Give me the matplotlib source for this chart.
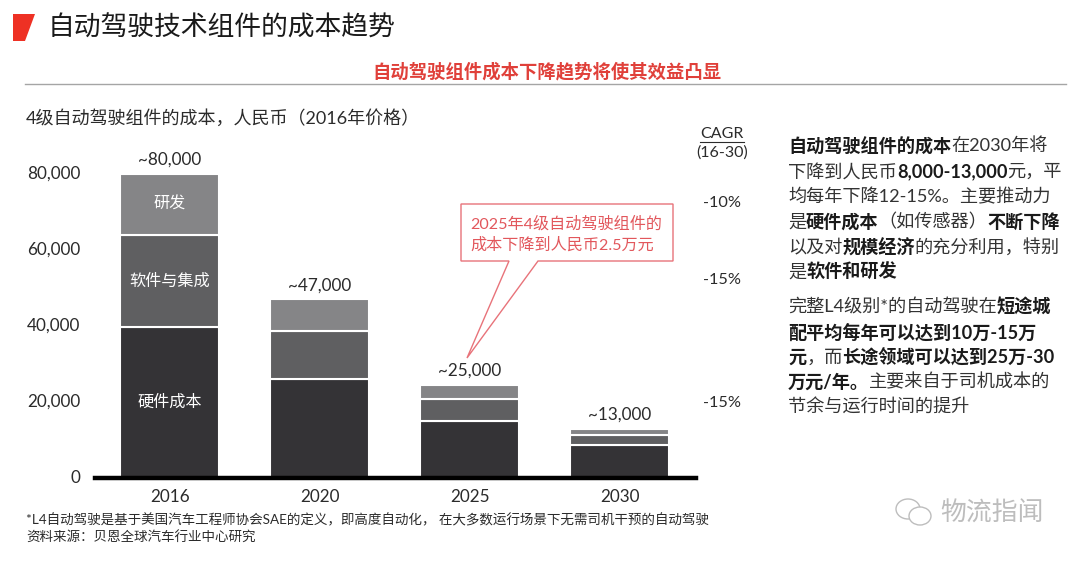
import matplotlib
matplotlib.use('Agg')
import matplotlib.pyplot as plt
from matplotlib.patches import Polygon, Ellipse

plt.rcParams['font.family'] = ['Lato', 'Noto Sans CJK SC', 'DejaVu Sans']

years = ['2016', '2020', '2025', '2030']
hardware = [39700, 26000, 15000, 8700]
software = [24200, 12700, 5800, 2600]
research = [16100, 8300, 3700, 1600]
totals = ['~80,000', '~47,000', '~25,000', '~13,000']
yticks = [0, 20000, 40000, 60000, 80000]
cagr = ['-10%', '-15%', '-15%']

dark = '#343336'
mid = '#5f5f61'
light = '#858587'
red = '#ee3124'
text_col = '#2b2b2b'

fig = plt.figure(figsize=(10.8, 5.61), dpi=100)

# chart axes, placed in pixels of the original
ax = fig.add_axes([95/1080, (561-478)/561, 601/1080, 304/561])
ax.bar(years, hardware, width=0.66, color=dark, edgecolor='white', linewidth=1.5)
ax.bar(years, software, width=0.66, bottom=hardware, color=mid, edgecolor='white', linewidth=1.5)
bottoms = [h+s for h, s in zip(hardware, software)]
ax.bar(years, research, width=0.66, bottom=bottoms, color=light, edgecolor='white', linewidth=1.5)
ax.set_xlim(-0.5, 3.507)
ax.set_ylim(0, 80000)
for s in ['top', 'right', 'left']:
    ax.spines[s].set_visible(False)
ax.spines['bottom'].set_linewidth(3.2)
ax.spines['bottom'].set_color('black')
ax.spines['bottom'].set_zorder(5)
ax.set_yticks(yticks)
ax.set_yticklabels([f'{v:,}' for v in yticks], fontsize=12.3, color=text_col, va='center')
for lab in ax.get_yticklabels():
    lab.set_y(lab.get_position()[1])
ax.tick_params(axis='y', length=0, pad=10.4)
ax.tick_params(axis='x', length=0, pad=8, labelsize=12.3, labelcolor=text_col)

for i, label in enumerate(totals):
    top = hardware[i]+software[i]+research[i]
    ax.annotate(label, (i, top), xytext=(0, 4.5), textcoords='offset points', ha='center', va='bottom',
                fontsize=12.3, color=text_col, annotation_clip=False)
ax.text(0, hardware[0]/2, '硬件成本', color='white', fontsize=11.6, ha='center', va='center')
ax.text(0, hardware[0]+software[0]/2, '软件与集成', color='white', fontsize=11.6, ha='center', va='center')
ax.text(0, bottoms[0]+research[0]/2, '研发', color='white', fontsize=11.6, ha='center', va='center')

# overlay in pixel coordinates for all the slide furniture
px = fig.add_axes([0, 0, 1, 1], facecolor='none')
px.set_xlim(0, 1080)
px.set_ylim(561, 0)
px.set_axis_off()

px.add_patch(Polygon([(13, 14), (35, 14), (25, 41), (13, 41)], color=red, lw=0))
px.text(48, 28, '自动驾驶技术组件的成本趋势', fontsize=19.3, color='#1a1a1a', va='center')
px.text(547, 71, '自动驾驶组件成本下降趋势将使其效益凸显', fontsize=13.2, color='#e0403a',
        fontweight='bold', ha='center', va='center')
px.plot([25, 1066], [84, 84], color='#a5a5a5', lw=1)
px.text(26, 118, '4级自动驾驶组件的成本，人民币（2016年价格）', fontsize=13, color=text_col, va='center')

# CAGR column
px.text(722, 134, 'CAGR', fontsize=11.5, color=text_col, ha='center', va='center')
px.plot([700, 744], [142, 142], color=text_col, lw=0.8)
px.text(722, 153, '(16-30)', fontsize=11.5, color=text_col, ha='center', va='center')
for y, label in zip([203, 280, 403], cagr):
    px.text(722, y, label, fontsize=11.7, color=text_col, ha='center', va='center')

# callout
callout_col = '#e8737a'
px.add_patch(Polygon([(461, 204), (673, 204), (673, 261), (538, 261), (467, 358), (509, 261), (461, 261)],
                     closed=True, facecolor='white', edgecolor=callout_col, lw=1))
px.text(470, 224, '2025年4级自动驾驶组件的', fontsize=11.6, color='#e2575c', va='center')
px.text(470, 245, '成本下降到人民币2.5万元', fontsize=11.6, color='#e2575c', va='center')

# right column, mixed regular and bold runs
renderer = fig.canvas.get_renderer()


def draw_runs(x, y, runs):
    for s, bold in runs:
        t = px.text(x, y, s, fontsize=13.1, color='#1a1a1a' if bold else '#333333',
                    fontweight='bold' if bold else 'normal', va='center')
        x = t.get_window_extent(renderer).x1


lines = [
    (146, [('自动驾驶组件的成本', True), ('在2030年将', False)]),
    (172, [('下降到人民币', False), ('8,000-13,000', True), ('元，平', False)]),
    (197, [('均每年下降12-15%。主要推动力', False)]),
    (222, [('是', False), ('硬件成本', True), ('（如传感器）', False), ('不断下降', True)]),
    (247, [('以及对', False), ('规模经济', True), ('的充分利用，特别', False)]),
    (272, [('是', False), ('软件和研发', True)]),
    (307, [('完整L4级别*的自动驾驶在', False), ('短途城', True)]),
    (332, [('配平均每年可以达到10万-15万', True)]),
    (357, [('元', True), ('，而', False), ('长途领域可以达到25万-30', True)]),
    (382, [('万元/年。', True), ('主要来自于司机成本的', False)]),
    (407, [('节余与运行时间的提升', False)]),
]
for y, runs in lines:
    draw_runs(788, y, runs)

# footnotes
px.text(26, 520, '*L4自动驾驶是基于美国汽车工程师协会SAE的定义，即高度自动化， 在大多数运行场景下无需司机干预的自动驾驶',
        fontsize=9.75, color=text_col, va='center')
px.text(26, 537, '资料来源：贝恩全球汽车行业中心研究', fontsize=9.75, color=text_col, va='center')

# watermark
wm = '#bdbdbd'
px.add_patch(Ellipse((908, 509), 24, 20, facecolor='none', edgecolor=wm, lw=1))
px.add_patch(Ellipse((920, 516), 22, 18, facecolor='white', edgecolor=wm, lw=1))
px.text(940, 513, '物流指闻', fontsize=18.6, color=wm, va='center')

fig.savefig('out.png', dpi=100)
